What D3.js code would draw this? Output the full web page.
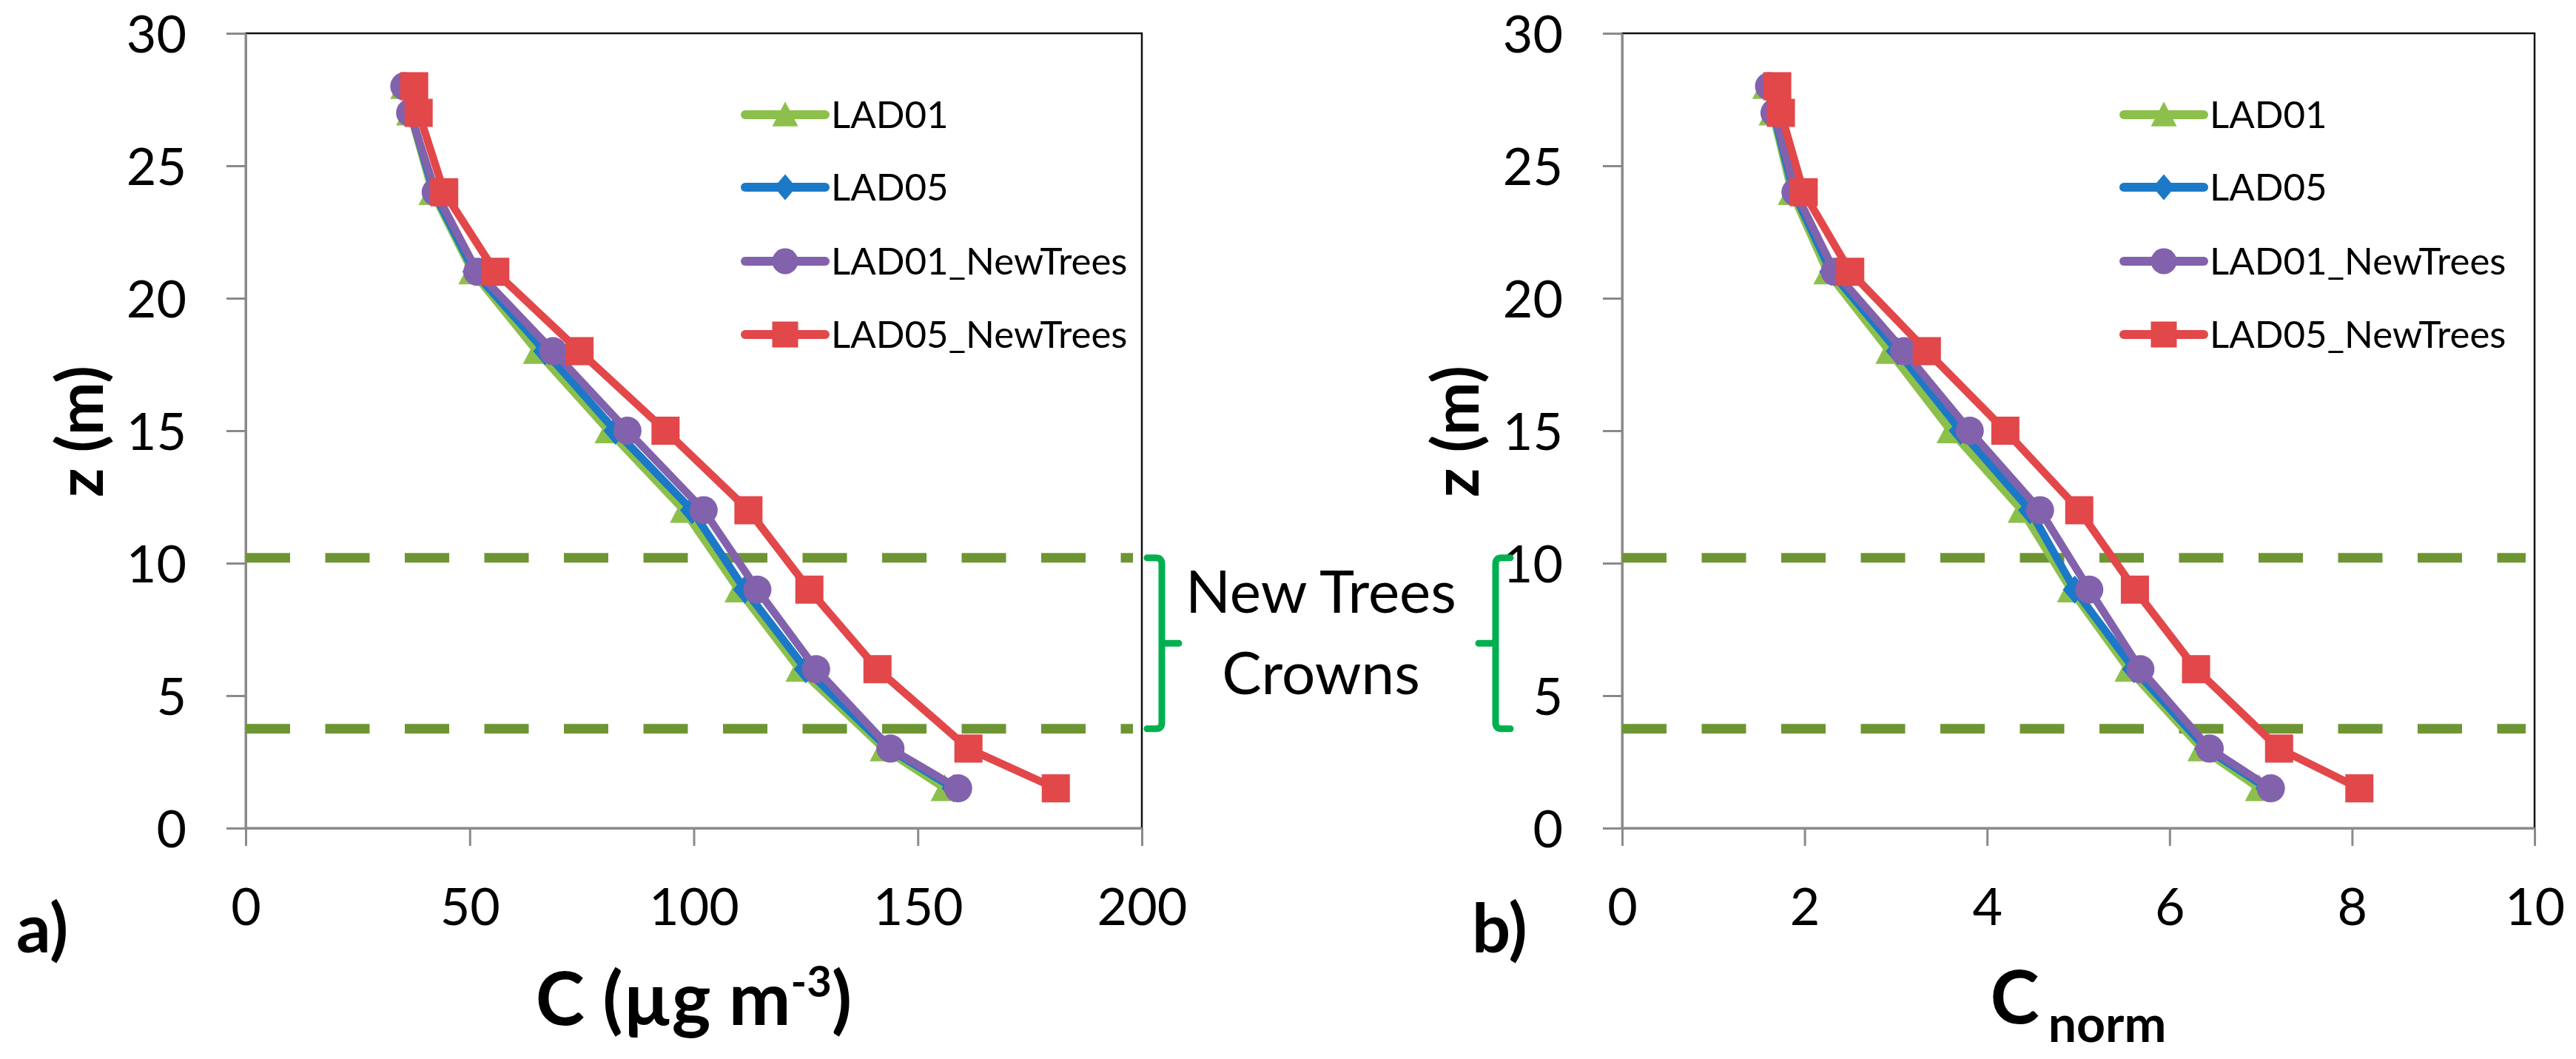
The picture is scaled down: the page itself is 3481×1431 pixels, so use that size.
<!DOCTYPE html>
<html>
<head>
<meta charset="utf-8">
<script src="https://cdn.jsdelivr.net/npm/d3@7"></script>
<style>
  html, body { margin: 0; padding: 0; background: #fff; }
  text { font-family: 'Lato', 'Open Sans', sans-serif; }
</style>
</head>
<body>
<script>
// ---------------- DATA ----------------
const heights = [28, 27, 24, 21, 18, 15, 12, 9, 6, 3, 1.5];
const seriesNames = ["LAD01", "LAD05", "LAD01_NewTrees", "LAD05_NewTrees"];

// Panel a) concentration C (µg m-3)
const cLAD01      = [35.4, 36.7, 41.7, 50.6, 65.0, 81.0, 97.8, 110.0, 123.6, 142.4, 156.0];
const cLAD05      = [35.5, 36.8, 42.0, 51.0, 66.8, 82.5, 99.6, 111.4, 125.0, 143.4, 158.0];
const cLAD01New   = [35.4, 36.7, 42.4, 51.7, 68.6, 85.2, 102.2, 114.2, 127.3, 143.9, 159.0];
const cLAD05New   = [37.6, 38.6, 44.3, 55.7, 74.5, 93.7, 112.2, 125.8, 141.0, 161.3, 180.8];

// Panel b) normalised concentration C_norm
const nLAD01      = [1.58, 1.65, 1.86, 2.25, 2.93, 3.60, 4.38, 4.92, 5.55, 6.35, 6.98];
const nLAD05      = [1.60, 1.66, 1.88, 2.29, 3.02, 3.71, 4.47, 4.96, 5.61, 6.40, 7.07];
const nLAD01New   = [1.61, 1.67, 1.90, 2.33, 3.09, 3.81, 4.58, 5.12, 5.68, 6.44, 7.11];
const nLAD05New   = [1.70, 1.74, 1.99, 2.50, 3.34, 4.20, 5.01, 5.62, 6.29, 7.20, 8.08];

// Axis ticks
const yTicks  = [0, 5, 10, 15, 20, 25, 30];
const xTicksA = [0, 50, 100, 150, 200];
const xTicksB = [0, 2, 4, 6, 8, 10];

// New tree crown layer (z, m)
const crownBounds = [10.2, 3.75];
const crownLabel = ["New Trees", "Crowns"];

// ---------------- STYLE ----------------
const colors  = ["#8CC04B", "#1B79C8", "#8262AC", "#E2474A"];
const markers = ["triangle", "diamond", "circle", "square"];
const FONT = "Lato, 'Open Sans', sans-serif";

const W = 3481, H = 1431;
const svg = d3.select("body").append("svg")
  .attr("width", W).attr("height", H)
  .style("background", "#fff");

function markerPath(type, s) {
  const h = s / 2;
  if (type === "square") return `M${-h},${-h}H${h}V${h}H${-h}Z`;
  if (type === "diamond") { const hw = h * 0.85, hh = h * 1.0; return `M0,${-hh}L${hw},0L0,${hh}L${-hw},0Z`; }
  if (type === "triangle") { const hh = s * 0.9 / 2; return `M0,${-hh - 2}L${h},${hh}L${-h},${hh}Z`; }
  return d3.symbol(d3.symbolCircle, Math.PI * h * h)();
}

const panels = [
  {
    xDomain: [0, 200], xRange: [332, 1543], xTicks: xTicksA,
    data: [cLAD01, cLAD05, cLAD01New, cLAD05New],
    letter: "a)", letterX: 22, yLabelX: 109, legendX: 1007,
    bracketX: 1570, bracketDir: 1
  },
  {
    xDomain: [0, 10], xRange: [2192, 3425], xTicks: xTicksB,
    data: [nLAD01, nLAD05, nLAD01New, nLAD05New],
    letter: "b)", letterX: 1989, yLabelX: 1968, legendX: 2870,
    bracketX: 2021, bracketDir: -1
  }
];

const yRange = [1119, 45];

panels.forEach((p, pi) => {
  const x = d3.scaleLinear().domain(p.xDomain).range(p.xRange);
  const y = d3.scaleLinear().domain([0, 30]).range(yRange);
  const g = svg.append("g");

  // plot border (top/right black)
  g.append("rect")
    .attr("x", p.xRange[0]).attr("y", yRange[1])
    .attr("width", p.xRange[1] - p.xRange[0]).attr("height", yRange[0] - yRange[1])
    .attr("fill", "none").attr("stroke", "#111").attr("stroke-width", 2.5);

  // y axis
  const ya = g.append("g").attr("transform", `translate(${p.xRange[0]},0)`)
    .call(d3.axisLeft(y).tickValues(yTicks).tickSize(26).tickSizeOuter(0).tickPadding(54).tickFormat(d3.format("d")));
  ya.selectAll(".tick text").attr("dy", "0.37em");
  // x axis
  const xa = g.append("g").attr("transform", `translate(0,${yRange[0]})`)
    .call(d3.axisBottom(x).tickValues(p.xTicks).tickSize(24).tickSizeOuter(0).tickPadding(57).tickFormat(d3.format("d")));
  [ya, xa].forEach(a => {
    a.attr("font-family", FONT).attr("font-size", 70);
    a.select(".domain").attr("stroke", "#8a8a8a").attr("stroke-width", 3);
    a.selectAll(".tick line").attr("stroke", "#8a8a8a").attr("stroke-width", 3);
    a.selectAll(".tick text").attr("fill", "#000");
  });

  // crown dashed lines
  crownBounds.forEach(v => {
    g.append("line")
      .attr("x1", p.xRange[0]).attr("x2", p.xRange[1] - 12)
      .attr("y1", y(v)).attr("y2", y(v))
      .attr("stroke", "#6E9534").attr("stroke-width", 13)
      .attr("stroke-dasharray", "60,47.5");
  });

  // series
  const line = d3.line().x(d => x(d[0])).y(d => y(d[1]));
  p.data.forEach((vals, si) => {
    const pts = vals.map((v, i) => [v, heights[i]]);
    g.append("path").datum(pts).attr("d", line)
      .attr("fill", "none").attr("stroke", colors[si]).attr("stroke-width", 10.5)
      .attr("stroke-linejoin", "round").attr("stroke-linecap", "round");
    g.selectAll(null).data(pts).enter().append("path")
      .attr("transform", d => `translate(${x(d[0])},${y(d[1])})`)
      .attr("d", markerPath(markers[si], 38))
      .attr("fill", colors[si]);
  });

  // legend
  const legendY = [155, 253, 353, 452];
  seriesNames.forEach((name, si) => {
    const lg = g.append("g").attr("transform", `translate(${p.legendX},${legendY[si]})`);
    lg.append("line").attr("x1", 0).attr("x2", 108).attr("y1", 0).attr("y2", 0)
      .attr("stroke", colors[si]).attr("stroke-width", 12).attr("stroke-linecap", "round");
    lg.append("path").attr("transform", "translate(54,0)")
      .attr("d", markerPath(markers[si], 35)).attr("fill", colors[si]);
    lg.append("text").attr("x", 116).attr("y", 18)
      .attr("font-size", 51).attr("fill", "#000").text(name);
  });

  // y label
  g.append("text")
    .attr("transform", `translate(${p.yLabelX},583) rotate(-90)`)
    .attr("text-anchor", "middle").attr("dy", "0.35em")
    .attr("font-size", 86).attr("font-weight", "bold").text("z (m)");

  // panel letter
  g.append("text").attr("x", p.letterX).attr("y", 1287)
    .attr("font-size", 92).attr("font-weight", "bold").text(p.letter);

  // bracket
  const bx = p.bracketX, d = p.bracketDir;
  const yt = y(crownBounds[0]), yb = y(crownBounds[1]), ym = (yt + yb) / 2;
  const bp = d3.path();
  bp.moveTo(bx - d * 20, yt);
  bp.lineTo(bx - d * 8, yt);
  bp.quadraticCurveTo(bx, yt, bx, yt + 8);
  bp.lineTo(bx, yb - 8);
  bp.quadraticCurveTo(bx, yb, bx - d * 8, yb);
  bp.lineTo(bx - d * 20, yb);
  bp.moveTo(bx, ym);
  bp.lineTo(bx + d * 23, ym);
  g.append("path").attr("d", bp.toString())
    .attr("fill", "none").attr("stroke", "#00B050").attr("stroke-width", 9)
    .attr("stroke-linecap", "round").attr("stroke-linejoin", "round");
});

// x labels
const xa = svg.append("text").attr("x", (332 + 1543) / 2).attr("y", 1385)
  .attr("text-anchor", "middle").attr("font-size", 100).attr("font-weight", "bold");
xa.append("tspan").text("C (µg m");
xa.append("tspan").attr("font-size", 58).attr("dy", -38).text("-3");
xa.append("tspan").attr("dy", 38).text(")");

const xb = svg.append("text").attr("x", (2192 + 3425) / 2).attr("y", 1383)
  .attr("text-anchor", "middle").attr("font-size", 100).attr("font-weight", "bold");
xb.append("tspan").text("C");
xb.append("tspan").attr("font-size", 68).attr("dx", 12).attr("dy", 25).text("norm");

// "New Trees Crowns" annotation
svg.append("text").attr("x", 1785).attr("y", 828).attr("text-anchor", "middle")
  .attr("font-size", 80).text(crownLabel[0]);
svg.append("text").attr("x", 1785).attr("y", 938).attr("text-anchor", "middle")
  .attr("font-size", 80).text(crownLabel[1]);
</script>
</body>
</html>
